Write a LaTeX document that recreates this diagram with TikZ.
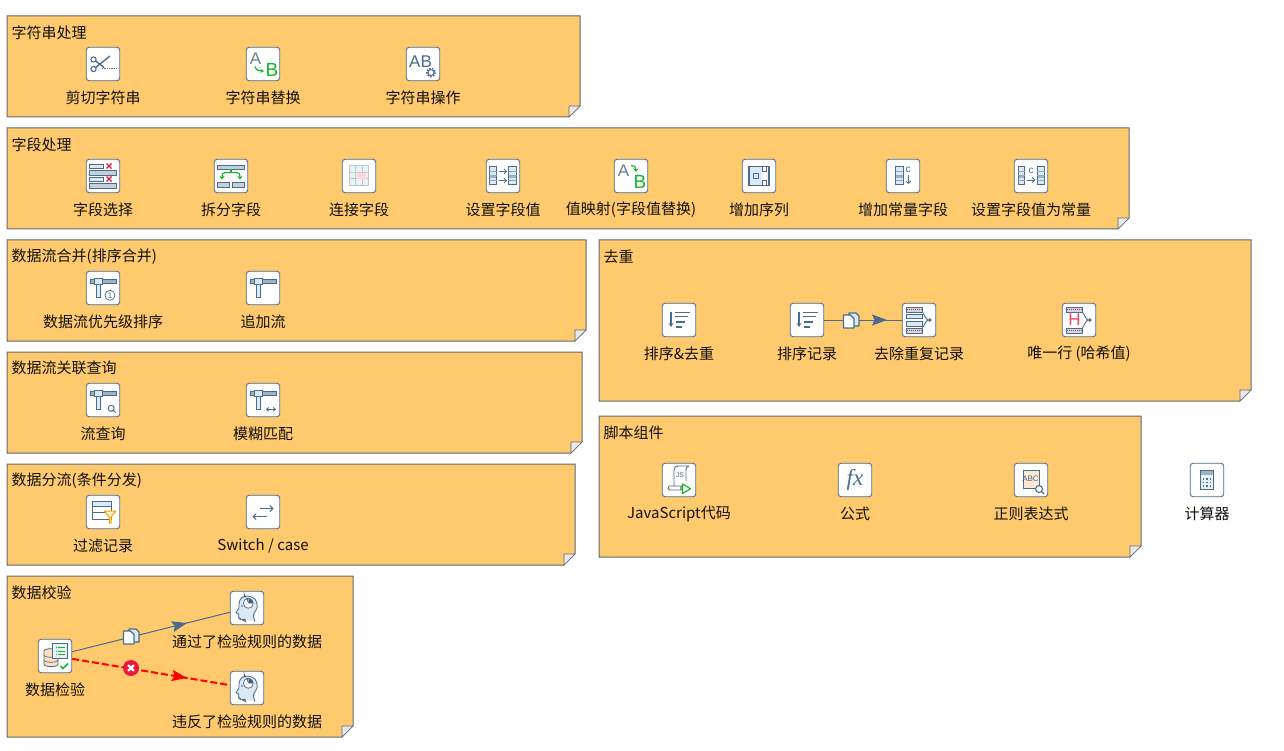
\documentclass[tikz,border=0pt]{standalone}
\usepackage{fontspec}
\setmainfont{Noto Sans CJK SC}
\newfontfamily\lsf{Liberation Sans}
\newfontfamily\lsif{Liberation Serif}
\usetikzlibrary{arrows.meta,decorations.markings}
\definecolor{ib}{HTML}{4A6C8E}
\definecolor{il}{HTML}{DCE9F2}
\definecolor{ig}{HTML}{9FB2C2}
\definecolor{igr}{HTML}{12B82A}
\definecolor{ird}{HTML}{E8193C}
\definecolor{notefill}{HTML}{FFCA6D}
\definecolor{noteline}{HTML}{5F6B75}
\definecolor{foldfill}{HTML}{E9E9E9}
\definecolor{txt}{HTML}{111111}
\newcounter{glc}
\tikzset{
 iconbox/.style={draw=ib,fill=white,line width=.9pt,rounded corners=3pt,minimum size=33.5pt,inner sep=0pt},
 lab/.style={font=\fontsize{15}{15}\selectfont,text=txt,inner sep=0pt,anchor=center},
 titlelab/.style={font=\fontsize{15}{15}\selectfont,text=txt,inner sep=0pt,anchor=west},
 gl/.style={draw=ib,line width=.85pt},
 conn/.style={draw=ib,line width=1pt,postaction={decorate},
   decoration={markings,mark=at position #1 with {\arrow{Stealth[length=15pt,width=11pt,inset=2.5pt,fill=ib]}}}},
 rconn/.style={draw=red,line width=2pt,dash pattern=on 7pt off 3pt,postaction={decorate},
   decoration={markings,mark=at position #1 with {\arrow[solid]{Stealth[length=15pt,width=11pt,inset=2.5pt,fill=red]}}}},
}
\newcommand{\gtx}[5]{\stepcounter{glc}\node[inner sep=0pt,text=#3,font=\lsf\fontsize{#4}{#4}\selectfont] (gl\arabic{glc}) at (#1,#2) {#5};}
\newcommand{\notebox}[6]{% name x1 y1 x2 y2 title
 \draw[fill=notefill,draw=noteline,line width=1pt] (#2,#3) -- (#4,#3) -- (#4,#5-11) -- (#4-11,#5) -- (#2,#5) -- cycle;
 \draw[fill=foldfill,draw=noteline,line width=.6pt] (#4,#5-11) -- (#4-11,#5-11) -- (#4-11,#5) -- cycle;
 \node[titlelab] (#1) at (#2+4.5,#3+16.3) {#6};}
\newcommand{\ic}[5]{% name x y label glyph
 \node[iconbox] (#1) at (#2,#3) {};
 \node[lab] (#1l) at (#2,#3+34) {#4};
 \begin{scope}[shift={(#2,#3)}]#5\end{scope}}
\newcommand{\gcol}[4]{\fill[il] (#1,#3) rectangle (#2,#4);\fill[ig] (#1,#3+.5*#4-.5*#3) rectangle (#2,#3+.65*#4-.65*#3);
 \draw[gl] (#1,#3) rectangle (#2,#4);
 \foreach \q in {.25,.5,.75}{\draw[ib!60,line width=.5pt] (#1,#3+\q*#4-\q*#3) -- (#2,#3+\q*#4-\q*#3);}}
\newcommand{\gx}[2]{\draw[ird,line width=1.4pt] (#1-2.5,#2-2.5) -- (#1+2.5,#2+2.5) (#1-2.5,#2+2.5) -- (#1+2.5,#2-2.5);}
\newcommand{\gT}{\draw[gl,fill=il] (-6.3,-3.5) rectangle (-3,9.7);
 \draw[gl,fill=ig] (-13,-8.5) rectangle (13,-5);
 \draw[gl,fill=il] (-8.3,-10) rectangle (-.3,-3.3);}
\newcommand{\ghead}{\draw[gl,fill=il] plot[smooth,tension=.55] coordinates {(8,13.7) (6.5,7) (10.3,-1.3) (8,-9) (1.3,-12) (-5,-10.5) (-7.7,-6) (-8,0)} -- (-11,4.7) -- (-8.3,6) -- (-8,10) plot[smooth,tension=.5] coordinates {(-8,10) (-6.5,11.5) (-2,11.3)} -- (-1.3,13.7) -- cycle;
 \fill[white] (1.3,-4.7) circle (5);
 \fill[ib!85!black] (1.3,-4.7) -- (1.3,-9.7) arc (90:200:5) -- cycle;
 \fill[ib!85!black] (1.3,-4.7) -- (6.3,-4.7) arc (0:-80:5) -- cycle;
 \draw[ib,line width=.7pt] (1.3,-4.7) circle (5);
 \fill[ib] (-5,-2) circle (.8);}
\newcommand{\gcopy}{\draw[ib,fill=il,line width=1.2pt,line join=round] (-2,-7) -- (5,-7) -- (8,-4) -- (8,6) -- (-2,6) -- cycle;
 \draw[ib,fill=white,line width=1.2pt,line join=round] (-7.5,-5) -- (-.5,-5) -- (3,-1.5) -- (3,8) -- (-7.5,8) -- cycle;}
\newcommand{\gdedupbars}{\draw[gl,fill=ig!50] (-13,-13) rectangle (3.5,-8);
 \draw[ird,line width=1.3pt,dash pattern=on 1pt off 1pt] (-12,-10.5) -- (3,-10.5);
 \draw[gl,fill=ig!50] (-13,8) rectangle (3.5,13);
 \draw[ird,line width=1.3pt,dash pattern=on 1pt off 1pt] (-12,10.5) -- (3,10.5);
 \draw[gl,line width=.9pt] (3.5,-8) .. controls (6,-4) and (7,0) .. (10,0) (3.5,8) .. controls (6,4) and (7,0) .. (10,0) -- (12,0);
 \fill[ib] (13,0) -- (10,-2) -- (10,2) -- cycle;}
\begin{document}
\begin{tikzpicture}[x=1pt,y=-1pt]
\useasboundingbox (0,0) rectangle (1284,751);
\fill[white] (0,0) rectangle (1284,751);
\notebox{t1}{7}{16}{580}{117}{字符串处理}
\notebox{t2}{7}{128}{1129}{229}{字段处理}
\notebox{t3}{7}{240}{586}{341}{数据流合并(排序合并)}
\notebox{t4}{7}{352}{582}{453}{数据流关联查询}
\notebox{t5}{7}{464}{575}{565}{数据分流(条件分发)}
\notebox{t6}{7}{576}{353}{737}{数据校验}
\notebox{t7}{599}{240}{1251}{401}{去重}
\notebox{t8}{599}{416}{1141}{557}{脚本组件}
% row 1
\ic{a1}{103}{64}{剪切字符串}{\draw[gl,line width=1.1pt] (-9.5,-4.5) circle (2.6) (-9.5,5) circle (2.6);
 \draw[gl,line width=1.4pt] (-7.3,-3) -- (1,3.5) (-7.3,3.5) -- (7,-8);
 \draw[ib,line width=1pt,dash pattern=on 1.3pt off 1pt] (-1,5) -- (13,5);}
\ic{a2}{263}{64}{字符串替换}{\gtx{-7.5}{-5}{ib!85}{17}{A}\gtx{9}{5.5}{igr}{19}{B}
 \draw[igr,line width=1.2pt,-{Stealth[length=3.5pt,width=4pt]}] (-8,2.5) .. controls (-7,6.5) and (-4,7) .. (1,7);}
\ic{a3}{423}{64}{字符串操作}{\gtx{-2.5}{-2}{ib}{17}{AB}
 \draw[ib,line width=1pt,fill=white] (8,8.5) circle (3);
 \draw[ib,line width=1.5pt,dash pattern=on 1.5pt off 1.4pt] (8,8.5) circle (4.2);}
% row 2
\ic{b1}{103}{176}{字段选择}{\draw[gl,fill=il] (-13.5,-12) rectangle (0,-8) (-13.5,1) rectangle (0,5);
 \draw[gl,fill=ig!60] (-13.5,-5.5) rectangle (13.5,-1) (-13.5,7) rectangle (13.5,12);
 \gx{6}{-10}\gx{6}{3}}
\ic{b2}{231}{176}{拆分字段}{\draw[gl,fill=ig!60] (-13.3,-11) rectangle (13.3,-6.5) (-13.3,6) rectangle (-1.7,11) (1.7,6) rectangle (13.3,11);
 \draw[igr,line width=1.2pt] (0,-6.5) -- (0,-3.5);
 \draw[igr,line width=1.2pt,-{Stealth[length=3.5pt,width=5pt]}] (0,-3.5) -- (-6,-3.5) .. controls (-9,-3.5) and (-9,-1) .. (-9,3.5);
 \draw[igr,line width=1.2pt,-{Stealth[length=3.5pt,width=5pt]}] (0,-3.5) -- (6,-3.5) .. controls (9,-3.5) and (9,-1) .. (9,3.5);}
\ic{b3}{359}{176}{连接字段}{\fill[il!60] (-9.7,-10.3) rectangle (9.7,9);
 \draw[ig!70,line width=.8pt] (-9.7,-10.3) rectangle (9.7,9) (-3.2,-10.3) -- (-3.2,9) (3.2,-10.3) -- (3.2,9) (-9.7,-3.9) -- (9.7,-3.9) (-9.7,2.6) -- (9.7,2.6);
 \fill[red!15] (-2.3,-3) rectangle (7,3);}
\ic{b4}{503}{176}{设置字段值}{\gcol{-13.7}{-6.3}{-9.3}{8.7}\gcol{5.7}{13.7}{-9.3}{8.7}
 \draw[ib,line width=.8pt,-{Straight Barb[length=2.5pt,width=5pt]}] (-4,-4.7) -- (4,-4.7);
 \draw[ib,line width=.8pt,-{Straight Barb[length=2.5pt,width=5pt]}] (-4,4.7) -- (4,4.7);}
\ic{b5}{631}{176}{值映射(字段值替换)}{\gtx{-7.5}{-5.5}{ib!85}{17}{A}\gtx{9}{6}{igr}{19}{B}
 \draw[igr,line width=1.2pt,-{Stealth[length=3.5pt,width=5pt]}] (0,-10.5) .. controls (3,-11) and (5,-9) .. (5,-4);}
\ic{b6}{759}{176}{增加序列}{\fill[il] (-10,-9.3) rectangle (3,9.3);
 \draw[gl,line width=1.1pt] (-10,-9.3) rectangle (10,9.3);
 \draw[ib,line width=.6pt] (-6,-2.5) rectangle (-1,2.5);
 \draw[ib,fill=white,line width=.7pt] (3,-9.3) rectangle (7,-4.5) (3,4.5) rectangle (7,9.3);}
\ic{b7}{903}{176}{增加常量字段}{\gcol{-7.3}{0}{-9.3}{8.7}
 \gtx{5}{-6}{ib}{10}{c}
 \draw[ib,line width=.8pt,-{Straight Barb[length=2.5pt,width=5pt]}] (5.3,-1) -- (5.3,8);}
\ic{b8}{1031}{176}{设置字段值为常量}{\gcol{-13}{-6.3}{-9.3}{8.7}\gcol{6.3}{13.7}{-9.3}{8.7}
 \gtx{0}{-5}{ib}{10}{c}
 \draw[ib,line width=.8pt,-{Straight Barb[length=2.5pt,width=5pt]}] (-4.3,4) -- (4.3,4);}
% streams
\ic{c1}{103}{288}{数据流优先级排序}{\gT\draw[ib,line width=.7pt] (7,7.3) circle (5);\gtx{7}{7.3}{ib}{8}{1}}
\ic{c2}{263}{288}{追加流}{\gT}
\ic{d1}{103}{400}{流查询}{\gT\draw[ib,line width=1pt] (8.2,8.3) circle (3) (10.3,10.4) -- (12.5,12.5);}
\ic{d2}{263}{400}{模糊匹配}{\gT\draw[ib,line width=1.1pt,{Stealth[length=3pt,width=5pt]}-{Stealth[length=3pt,width=5pt]}] (3,9.3) -- (13,9.3);}
\ic{e1}{103}{512}{过滤记录}{\fill[il] (-10.7,-11) rectangle (8.7,-6);
 \draw[gl] (-10.7,-11) rectangle (8.7,7.3) (-10.7,-6) -- (8.7,-6) (-10.7,0) -- (8.7,0);
 \draw[orange!80!yellow,fill=yellow!25!white,line width=1pt,line join=round] (1.3,-1) -- (13,-1) -- (8,5) -- (8,11) -- (6.3,11) -- (6.3,5) -- cycle;}
\ic{e2}{263}{512}{Switch / case}{\draw[ib,line width=1pt,-{Straight Barb[length=3pt,width=6pt]}] (-3,-3.5) -- (10.5,-3.5);
 \draw[ib,line width=1pt,-{Straight Barb[length=3pt,width=6pt]}] (3.5,4.5) -- (-10.5,4.5);}
% dedup
\newcommand{\gsort}{\draw[ib,line width=1.1pt,-{Stealth[length=4pt,width=5pt]}] (-8,-8) -- (-8,7);
 \draw[ib,line width=1.1pt] (-4.5,-7.5) -- (11,-7.5) (-4.5,-3.3) -- (8.5,-3.3) (-3,2) -- (5.5,2) (-3,7) -- (3,7);}
\ic{f1}{679}{320}{排序\&去重}{\gsort}
\ic{f2}{807}{320}{排序记录}{\gsort}
\ic{f3}{919}{320}{去除重复记录}{\gdedupbars
 \draw[gl,fill=il] (-13,-6) rectangle (3.5,-1.5) (-13,1.5) rectangle (3.5,6);}
\ic{f4}{1079}{320}{唯一行 (哈希值)}{\gdedupbars\gtx{-4.5}{0}{ird!80}{17}{H}}
% script
\ic{g1}{679}{480}{JavaScript代码}{\draw[gl,line join=round] (-5,-10) .. controls (-5,-13) and (-3,-14) .. (-1,-14) -- (10,-14) .. controls (8,-14) and (7,-12) .. (7,-10) -- (7,1);
 \draw[gl] (-5,-10) -- (-5,6) -- (-10,6) .. controls (-12,8) and (-11,10) .. (-9,10) -- (3,10) .. controls (1,9) and (1,7) .. (3,6) -- (-5,6);
 \gtx{1}{-5}{ib}{7}{JS}
 \draw[igr,line width=1.2pt,fill=white,line join=round] (3.5,4) -- (11.5,8.7) -- (3.5,13.5) -- cycle;}
\ic{g2}{855}{480}{公式}{\node[inner sep=0pt,text=ib,font=\lsif\itshape\fontsize{23}{23}\selectfont] (gfx) at (0,0) {fx};}
\ic{g3}{1031}{480}{正则表达式}{\fill[orange!18!white] (-8,-10) rectangle (8,8);
 \draw[gl,line width=.9pt] (-8,-10) rectangle (8,8);
 \gtx{-.5}{-1}{ib}{8}{ABC}
 \draw[ib,line width=1.1pt,fill=white] (8,9) circle (3.5) (10.5,11.5) -- (13,14);}
\ic{g4}{1207}{480}{计算器}{\draw[gl,fill=il!60] (-6.7,-9.3) rectangle (6.7,9.3);\fill[ig] (-6.7,-9.3) rectangle (6.7,-5);
 \draw[gl] (-6.7,-9.3) rectangle (6.7,9.3);
 \foreach \u in {-3.5,0,3.5}{\foreach \v in {-1,2.5,6}{\fill[ib] (\u-.6,\v-.6) rectangle (\u+.6,\v+.6);}}}
% validation
\ic{h1}{55}{656}{数据检验}{\draw[gl,fill=orange!25!white] (-11,-5) -- (-11,8) .. controls (-11,11.5) and (3,11.5) .. (3,8) -- (3,-5) .. controls (3,-8) and (-11,-8) .. (-11,-5) -- cycle;
 \draw[gl,line width=.7pt] (-11,-1) .. controls (-11,2) and (3,2) .. (3,-1) (-11,4) .. controls (-11,7) and (3,7) .. (3,4);
 \draw[gl,fill=il!60] (-2.7,-12.7) rectangle (12.7,2.3);
 \draw[igr,line width=.9pt,dash pattern=on 1.2pt off .8pt on 7pt off 0pt] (1,-8.5) -- (10,-8.5) (1,-5) -- (10,-5) (1,-1.5) -- (10,-1.5);
 \draw[igr,line width=1.5pt] (5.5,10) -- (8,12.5) -- (13,7.5);}
\ic{h2}{247}{608}{通过了检验规则的数据}{\ghead}
\ic{h3}{247}{688}{违反了检验规则的数据}{\ghead}
% connectors
\draw[conn=.81] (f2) -- (f3);
\draw[conn=.728] (h1) -- (h2);
\draw[rconn=.728] (h1) -- (h3);
\coordinate (c1c) at (851,320);
\coordinate (c2c) at (131,636);
\coordinate (c3c) at (131,668);
\begin{scope}[shift={(c1c)}]\gcopy\end{scope}
\begin{scope}[shift={(c2c)}]\gcopy\end{scope}
\begin{scope}[shift={(c3c)}]
 \fill[ird] (0,0) circle (8);
 \draw[white,line width=2.2pt,line cap=round] (-2.6,-2.6) -- (2.6,2.6) (-2.6,2.6) -- (2.6,-2.6);
\end{scope}
\end{tikzpicture}
\end{document}
